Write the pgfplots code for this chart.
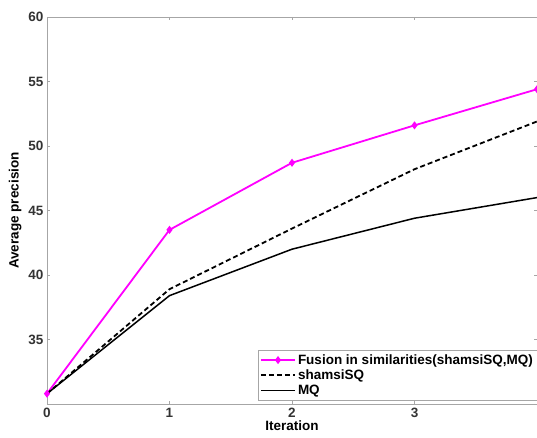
\documentclass[border=0pt]{standalone}
\usepackage{fontspec}
\setmainfont{Liberation Sans}
\usepackage{pgfplots}
\pgfplotsset{compat=1.18}
\definecolor{mag}{RGB}{255,0,255}
\begin{document}
\begin{tikzpicture}
\begin{axis}[
  scale only axis,
  width=490pt, height=387pt,
  xmin=0, xmax=4, ymin=30, ymax=60,
  xtick={0,1,2,3,4}, xticklabels={0,1,2,3,},
  ytick={35,40,45,50,55,60},
  axis line style={gray!70},
  tick style={gray!70},
  tick align=inside,
  tick pos=both,
  major tick length=3pt,
  /pgf/number format/assume math mode=true,
  ticklabel style={font=\bfseries\fontsize{13.5}{15}\selectfont, text=black!80},
  xticklabel style={yshift=-1pt},
  xlabel={\bfseries Iteration},
  ylabel={\bfseries Average precision},
  label style={font=\bfseries\fontsize{13.5}{15}\selectfont},
  xlabel style={yshift=2pt, inner sep=1pt},
  ylabel style={yshift=0pt},
  legend style={font=\bfseries\fontsize{13.5}{15}\selectfont, draw=gray!70, inner sep=2pt, row sep=0pt, at={(1,0.01)}, anchor=south east},
  legend cell align=left,
  legend image code/.code={\draw[mark repeat=2,mark phase=2,#1] plot coordinates {(0cm,0cm) (0.6cm,0cm) (1.2cm,0cm)};},
]
\addplot[mag, line width=1.8pt, mark=diamond*, mark size=2.6pt, mark options={solid}] coordinates {(0,30.8) (1,43.5) (2,48.7) (3,51.6) (4,54.4)};
\addlegendentry{Fusion in similarities(shamsiSQ,MQ)}
\addplot[black, line width=1.8pt, dash pattern=on 5pt off 3pt] coordinates {(0,30.8) (1,38.9) (2,43.6) (3,48.2) (4,51.9)};
\addlegendentry{shamsiSQ}
\addplot[black, line width=1.5pt] coordinates {(0,30.8) (1,38.4) (2,42.0) (3,44.4) (4,46.0)};
\addlegendentry{MQ}
\end{axis}
\pgfresetboundingbox
\path ([xshift=-47pt,yshift=-34pt]current axis.south west) rectangle ([yshift=17pt]current axis.north east);
\end{tikzpicture}
\end{document}
